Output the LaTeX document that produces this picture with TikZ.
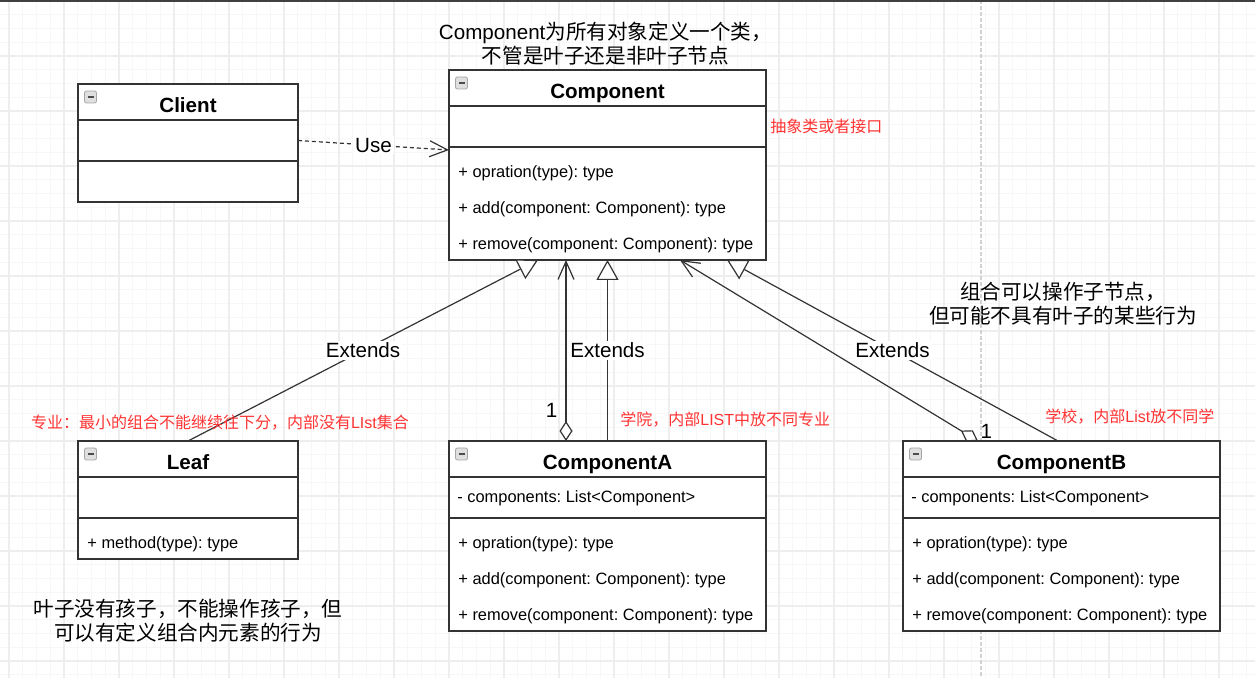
\documentclass[tikz,border=0pt]{standalone}
\usepackage{fontspec}
\setmainfont{Liberation Sans}
\newfontfamily\cjk{Noto Sans CJK SC}
\usepackage{tikz}
\usetikzlibrary{positioning, arrows.meta, calc}
\frenchspacing
\definecolor{edgegray}{HTML}{333333}
\definecolor{notered}{HTML}{FF3333}
% name, top left, width, title, attribute, height of operations, operations
\newcommand{\UmlClass}[7]{%
  \node[classhead, minimum width=#3, anchor=north west] (#1) at (#2) {#4};
  \node[classpart, minimum width=#3, below=0pt of #1] (#1-attr) {};
  \node[classpart, minimum width=#3, minimum height=#6, below=0pt of #1-attr] (#1-ops) {};
  \node[member] at ([xshift=4pt,yshift=-0.5pt]#1-attr.west) {#5};
  \foreach \m [count=\i] in {#7}
    \node[member] at ($(#1-ops.north west)+(4.5pt,{5pt-18pt*\i})$) {\m};
  \node[minus] at ([xshift=6.25pt,yshift=-6.5pt]#1.north west) {};
}
\tikzset{
    classhead/.style={draw=edgegray, line width=0.7pt, fill=white, minimum height=18pt, inner sep=0pt, outer sep=0pt,
      text height=10.9pt, text depth=0pt, font=\bfseries\fontsize{10.3}{12}\selectfont},
    classpart/.style={draw=edgegray, line width=0.7pt, fill=white, minimum height=20.5pt, inner sep=0pt, outer sep=0pt},
    member/.style={anchor=west, inner sep=0pt, font=\fontsize{8.2}{10}\selectfont},
    minus/.style={draw=gray!70, fill=gray!25, rounded corners=1pt, minimum size=6pt, inner sep=0pt,
      path picture={\draw[black!70, line width=0.8pt] ([xshift=1.5pt]path picture bounding box.west) -- ([xshift=-1.5pt]path picture bounding box.east);}},
    edgelabel/.style={fill=white, inner sep=1pt, font=\fontsize{10.3}{12}\selectfont},
    mult/.style={inner sep=1pt, font=\fontsize{10.3}{12}\selectfont},
    extends/.style={draw=edgegray, line width=0.6pt, -{Triangle[open, length=10pt, width=11pt, fill=white]}},
    aggr/.style={draw=edgegray, line width=0.6pt, {Diamond[open, length=10pt, width=6.5pt, fill=white]}-{Straight Barb[length=9pt, width=8pt]}},
    usedep/.style={draw=edgegray, line width=0.6pt, dash pattern=on 2pt off 1.5pt, -{Straight Barb[length=9pt, width=8pt]}},
    note/.style={align=center, inner sep=0pt, font=\fontsize{10.3}{12}\selectfont},
    rednote/.style={inner sep=0pt, text=notered, font=\fontsize{8}{10}\selectfont},
    minorline/.style={draw=gray!6, line width=0.5pt},
    majorline/.style={draw=gray!13, line width=0.6pt},
}
\begin{document}
\begin{tikzpicture}[x=0.5pt, y=-0.5pt]
    \useasboundingbox[fill=white] (0,0) rectangle (1255,678);

    % grid
    \foreach \i in {0,...,90} \draw[minorline] ({9+13.75*\i},0) -- ({9+13.75*\i},678);
    \foreach \i in {0,...,49} \draw[minorline] (0,{1+13.75*\i}) -- (1255,{1+13.75*\i});
    \foreach \i in {0,...,22} \draw[majorline] ({9+55*\i},0) -- ({9+55*\i},678);
    \foreach \i in {0,...,12} \draw[majorline] (0,{1+55*\i}) -- (1255,{1+55*\i});
    \draw[gray!35, line width=1pt, dash pattern=on 2pt off 1pt] (981,0) -- (981,678);
    \draw[black!75, line width=1pt] (0,1) -- (1255,1);

    \UmlClass{client}{78,84}{110pt}{Client}{}{20.5pt}{}
    \UmlClass{comp}{449,70}{158.5pt}{Component}{}{56.5pt}{+ opration(type): type, + add(component: Component): type, + remove(component: Component): type}
    \UmlClass{leaf}{78,441}{110pt}{Leaf}{}{20.5pt}{+ method(type): type}
    \UmlClass{compA}{449,441}{158.5pt}{ComponentA}{- components: List<Component>}{56.5pt}{+ opration(type): type, + add(component: Component): type, + remove(component: Component): type}
    \UmlClass{compB}{903,441}{158.5pt}{ComponentB}{- components: List<Component>}{56.5pt}{+ opration(type): type, + add(component: Component): type, + remove(component: Component): type}

    \draw[usedep] (client-attr.east) -- node[edgelabel] {Use} ([yshift=-1.5pt]comp-attr.south west);
    \draw[extends] (leaf.north) -- node[edgelabel] {Extends} ([xshift=-34.75pt]comp-ops.south);
    \draw[aggr] ([xshift=-20.75pt]compA.north) -- node[mult, pos=0.17, left=3pt] {1} ([xshift=-20.75pt]comp-ops.south);
    \draw[extends] (compA.north) -- node[edgelabel] {Extends} (comp-ops.south);
    \draw[aggr] ([xshift=-41.75pt]compB.north) -- node[mult, pos=0, above right] {1} ([xshift=36.25pt]comp-ops.south);
    \draw[extends] ([xshift=-1.75pt]compB.north) -- node[edgelabel] {Extends} ([xshift=59.75pt]comp-ops.south);

    \node[note, above=2pt of comp, xshift=-1pt] (topnote) {Component{\cjk 为所有对象定义一个类，}\\{\cjk 不管是叶子还是非叶子节点}};
    \node[rednote, right=2pt of comp-attr] (abstractnote) {\cjk 抽象类或者接口};
    \node[rednote, above=5pt of leaf, xshift=16pt] (leafnote) {{\cjk 专业：最小的组合不能继续往下分，内部没有}LIst{\cjk 集合}};
    \node[rednote, anchor=west] (collegenote) at (620,420) {{\cjk 学院，内部}LIST{\cjk 中放不同专业}};
    \node[rednote, anchor=west] (schoolnote) at (1045,417) {{\cjk 学校，内部}List{\cjk 放不同学}};
    \node[note] (compnote) at (1063,304) {\cjk 组合可以操作子节点，\\\cjk 但可能不具有叶子的某些行为};
    \node[note] (leafbottom) at (188,621) {\cjk 叶子没有孩子，不能操作孩子，但\\\cjk 可以有定义组合内元素的行为};
\end{tikzpicture}
\end{document}
